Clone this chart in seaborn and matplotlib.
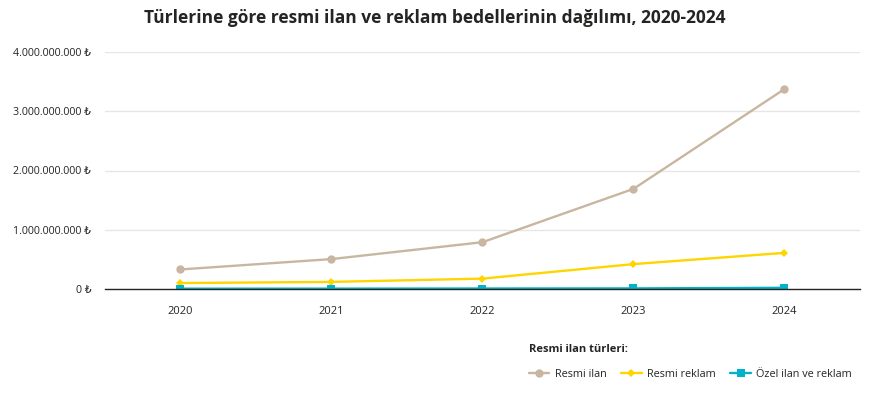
import matplotlib
matplotlib.use("Agg")
import matplotlib.pyplot as plt
import seaborn as sns
import pandas as pd
from matplotlib.ticker import FuncFormatter

years = [2020, 2021, 2022, 2023, 2024]
resmi_ilan = [330e6, 505e6, 790e6, 1690e6, 3375e6]
resmi_reklam = [100e6, 120e6, 175e6, 420e6, 610e6]
ozel = [5e6, 6e6, 8e6, 10e6, 20e6]
series_names = ["Resmi ilan", "Resmi reklam", "Özel ilan ve reklam"]
colors = ["#C9B6A0", "#FFD500", "#00B2CA"]
markers = ["o", "D", "s"]

df = pd.DataFrame({
    "Yıl": years * 3,
    "Değer": resmi_ilan + resmi_reklam + ozel,
    "Tür": [series_names[0]] * 5 + [series_names[1]] * 5 + [series_names[2]] * 5,
})
df["x"] = df["Yıl"].map({y: i for i, y in enumerate(years)})

sns.set_theme(style="white")
plt.rcParams["font.family"] = ["Open Sans", "DejaVu Sans"]

fig = plt.figure(figsize=(8.79, 3.99), dpi=100)
ax = fig.add_axes([105 / 879, 1 - 289 / 399, 755 / 879, 237 / 399])

for name, c, m in zip(series_names, colors, markers):
    sub = df[df["Tür"] == name]
    ms = 6 if m != "D" else 4.5
    sns.lineplot(data=sub, x="x", y="Değer", color=c, marker=m, markersize=ms,
                 markeredgewidth=0, linewidth=1.7, ax=ax, label=name)

ax.set_xlim(-0.5, 4.5)
ax.set_ylim(0, 4e9)
ax.set_xticks(range(len(years)))
ax.set_xticklabels([str(y) for y in years], fontsize=8, color="#252423")
ax.set_yticks([0, 1e9, 2e9, 3e9, 4e9])

def fmt(v, pos):
    return "{:,.0f} ₺".format(v).replace(",", ".")

ax.yaxis.set_major_formatter(FuncFormatter(fmt))
for lbl in ax.get_yticklabels():
    lbl.set_fontsize(7.7)
    lbl.set_color("#252423")
ax.tick_params(axis="both", length=0)
ax.tick_params(axis="x", pad=12)
ax.tick_params(axis="y", pad=10)
ax.grid(axis="y", color="#E6E6E6", linewidth=1)
ax.set_axisbelow(True)
for s in ["top", "right", "left"]:
    ax.spines[s].set_visible(False)
ax.spines["bottom"].set_color("#252423")
ax.spines["bottom"].set_linewidth(1)
ax.set_xlabel("")
ax.set_ylabel("")

handles, labels = ax.get_legend_handles_labels()
if ax.legend_:
    ax.legend_.remove()
leg = fig.legend(handles, labels, loc="upper right", bbox_to_anchor=(0.978, 0.157),
                 ncol=3, frameon=False, fontsize=7.8, title="Resmi ilan türleri:",
                 title_fontproperties={"weight": "bold", "size": 8},
                 alignment="left", handlelength=1.9, columnspacing=1.35,
                 handletextpad=0.5, labelspacing=0.3, borderpad=0.2)
leg._legend_box.sep = 10
for t in leg.get_texts():
    t.set_color("#252423")
leg.get_title().set_color("#252423")

fig.text(435 / 879, 1 - 18 / 399, "Türlerine göre resmi ilan ve reklam bedellerinin dağılımı, 2020-2024",
         ha="center", va="center", fontsize=12.5, fontweight="bold", color="#252423")

fig.savefig("out.png", dpi=100)
